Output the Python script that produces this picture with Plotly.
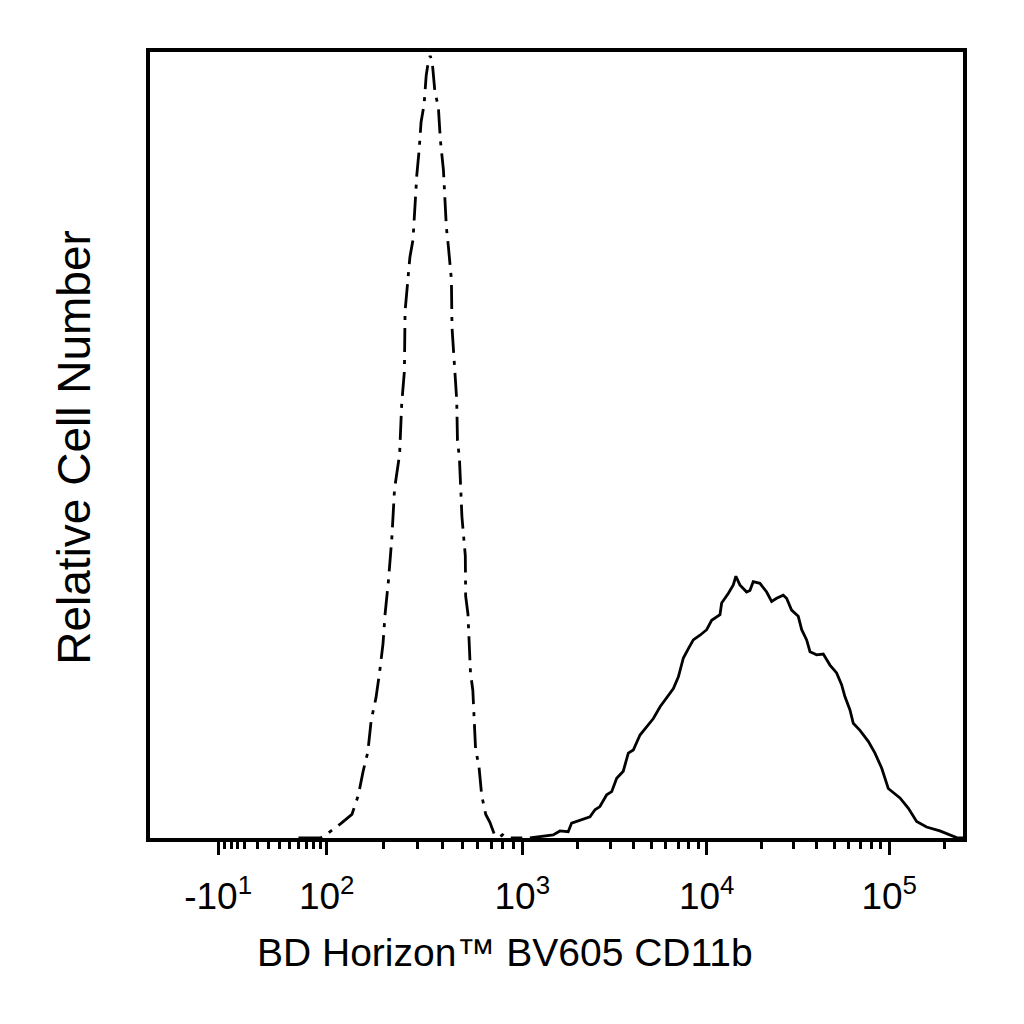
import numpy as np
import plotly.graph_objects as go

# unstained / isotype control histogram (dash-dot), BV605 intensity vs relative count
ctrl_x = [60, 90, 100, 119, 137, 148, 157, 166, 173, 183, 191, 199, 204, 212, 221, 228,
          242, 248, 256, 258, 267, 273, 283, 290, 296, 304, 311, 322, 330, 338, 346,
          354, 365, 380, 389, 403, 412, 417, 427, 442, 445, 457, 470, 474, 485, 499,
          519, 521, 535, 551, 566, 584, 608, 627, 657, 689, 725, 769, 796, 835, 1000]
ctrl_y = [0, 0, 0.5, 1.8, 3.0, 5.4, 8.5, 10.9, 15.0, 17.8, 21.0, 24.7, 28.5, 32.6, 38.2, 44.4,
          48.8, 55.2, 59.4, 67.0, 71.2, 73.9, 76.1, 81.2, 84.4, 87.5, 91.1, 93.3, 97.0, 98.7, 99.5,
          98.7, 95.0, 93.0, 88.8, 85.0, 80.3, 77.7, 75.2, 71.0, 65.0, 60.8, 55.7, 50.6, 48.3, 40.9,
          35.9, 30.8, 28.5, 21.0, 18.8, 11.4, 9.0, 5.4, 3.0, 2.0, 0.5, 0.1, 0.4, 0, 0]

# CD11b stained histogram (solid)
cd11b_x = [1100, 1300, 1472, 1600, 1775, 1852, 2012, 2330, 2480, 2637, 2870, 3055, 3252, 3530,
           3760, 4002, 4350, 4730, 5140, 5590, 6075, 6600, 7025, 7475, 7960, 8460, 9200,
           10000, 10650, 11830, 12080, 13130, 13990, 14460, 15200, 16550, 17260, 17990,
           19580, 21310, 22690, 24170, 26260, 27400, 29180, 31740, 33150, 35290, 36810,
           40020, 43530, 47350, 51500, 54830, 57170, 60940, 63530, 69140, 76770, 83530,
           90870, 98800, 114500, 127100, 141300, 160200, 189500, 215000, 234000, 262144]
cd11b_y = [0, 0.25, 0.4, 0.9, 0.8, 1.9, 2.2, 2.7, 3.6, 4.0, 5.5, 5.9, 7.6, 8.5,
           10.8, 11.2, 13.1, 14.2, 15.2, 16.7, 17.9, 19.0, 20.5, 22.9, 24.1, 25.2, 25.8,
           26.5, 27.7, 28.4, 29.9, 31.1, 32.2, 33.3, 32.2, 31.3, 31.5, 32.6,
           32.4, 31.3, 30.1, 30.5, 30.9, 30.5, 29.0, 28.2, 26.5, 25.2, 23.7,
           23.3, 23.4, 22.0, 21.0, 19.5, 18.0, 16.3, 14.6, 13.7, 12.3, 10.8,
           8.9, 6.3, 5.1, 3.8, 2.1, 1.4, 0.9, 0.4, 0.05, 0]

major_vals = [-10, 100, 1000, 10000, 100000]
major_text = ["-10<sup>1</sup>", "10<sup>2</sup>", "10<sup>3</sup>",
              "10<sup>4</sup>", "10<sup>5</sup>"]
minor_vals = ([-5, 0, 5, 10] + list(range(20, 100, 10)) + list(range(200, 1000, 100))
              + list(range(2000, 10000, 1000)) + list(range(20000, 100000, 10000)) + [200000])

# biexponential-like display scale (axis units ~ decades)
scale_vals = np.array([-10, 100, 1000, 1e4, 1e5, 262144])
scale_pos = np.array([1.324, 1.919, 2.990, 4.0, 5.0, 5.418])


def biex(v):
    t = np.arcsinh(np.asarray(v, dtype=float) / 50.0)
    return np.interp(t, np.arcsinh(scale_vals / 50.0), scale_pos)


fig = go.Figure()
fig.add_trace(go.Scatter(x=biex(ctrl_x), y=ctrl_y, mode="lines",
                         line=dict(color="black", width=2.8, dash="24px,8px,4px,8px")))
fig.add_trace(go.Scatter(x=biex(cd11b_x), y=cd11b_y, mode="lines",
                         line=dict(color="black", width=2.8)))

font = "Liberation Sans, Arial, sans-serif"
fig.update_layout(
    width=1024, height=1024,
    margin=dict(l=142, r=69, t=44, b=194),
    paper_bgcolor="white", plot_bgcolor="white",
    showlegend=False,
    font=dict(family=font, color="black"),
    xaxis=dict(
        range=[0.951, 5.404], showgrid=False, zeroline=False,
        showline=True, mirror=True, linecolor="black", linewidth=3.5,
        tickmode="array", tickvals=biex(major_vals), ticktext=major_text,
        ticks="outside", ticklen=13, tickwidth=2.5, tickcolor="black",
        ticklabelstandoff=10,
        tickfont=dict(size=37, family=font),
        minor=dict(tickmode="array", tickvals=biex(minor_vals), ticks="outside",
                   ticklen=7, tickwidth=2.5, tickcolor="black", showgrid=False),
    ),
    yaxis=dict(
        range=[0, 100], showgrid=False, zeroline=False,
        showline=True, mirror=True, linecolor="black", linewidth=3.5,
        showticklabels=False, ticks="",
    ),
    annotations=[
        dict(text="BD Horizon™ BV605 CD11b", xref="paper", yref="paper",
             x=0.437, y=-0.1457, xanchor="center", yanchor="middle",
             showarrow=False, font=dict(size=39, family=font)),
        dict(text="Relative Cell Number", xref="paper", yref="paper",
             x=-0.093, y=0.497, xanchor="center", yanchor="middle", textangle=-90,
             showarrow=False, font=dict(size=46, family=font)),
    ],
)

fig.write_html("out.html")
